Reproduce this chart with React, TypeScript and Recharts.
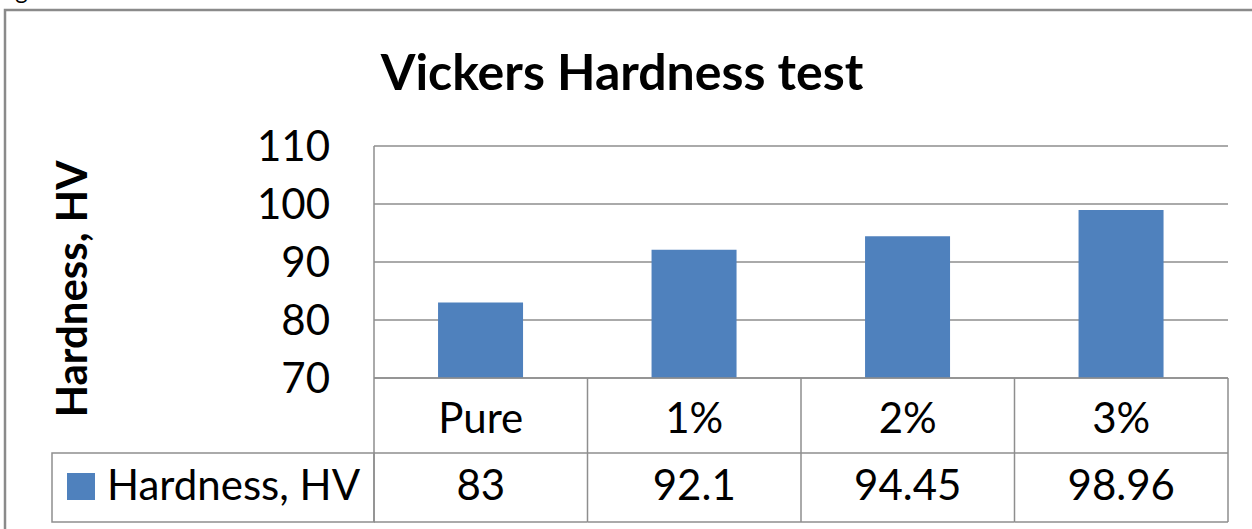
import React from 'react';
import { BarChart, Bar, XAxis, YAxis, CartesianGrid } from 'recharts';

const title = 'Vickers Hardness test';
const seriesName = 'Hardness, HV';
const categories = ['Pure', '1%', '2%', '3%'];
const hardness = [83, 92.1, 94.45, 98.96];
const yTicks = [70, 80, 90, 100, 110];

const data = categories.map((name, i) => ({ name, hardness: hardness[i] }));

const W = 1252;
const H = 529;
const Y_AXIS_W = 120;
const X_AXIS_H = 151; // category row + value row of the data table
const margin = { top: 146, right: 24, bottom: 0, left: 254 };
const PLOT_LEFT = margin.left + Y_AXIS_W;
const CELL_W = (W - margin.right - PLOT_LEFT) / categories.length;
const ROW1_H = 75;
const TABLE_H = 144;
const LEGEND_W = 322;

const FONT = 'Lato, "Open Sans", sans-serif';
const BAR_COLOR = '#4f81bd';
const LINE = '#8e8e8e';

// draws one column of the data table under the plot (category + value)
const TableTick = (props: any) => {
  const { x, y, payload } = props;
  const i = payload.index;
  const left = x - CELL_W / 2;
  const right = x + CELL_W / 2;
  return (
    <g>
      <text x={x} y={y + 55} textAnchor="middle" fontSize={42} fontFamily={FONT} fill="#000">
        {payload.value}
      </text>
      <text x={x} y={y + 122} textAnchor="middle" fontSize={42} fontFamily={FONT} fill="#000">
        {hardness[i]}
      </text>
      <line x1={right} y1={y} x2={right} y2={y + TABLE_H} stroke={LINE} strokeWidth={1.5} />
      <line x1={left} y1={y + ROW1_H} x2={right} y2={y + ROW1_H} stroke={LINE} strokeWidth={1.5} />
      <line x1={left} y1={y + TABLE_H} x2={right} y2={y + TABLE_H} stroke={LINE} strokeWidth={1.5} />
      {i === 0 && (
        <g>
          <line x1={left} y1={y} x2={left} y2={y + TABLE_H} stroke={LINE} strokeWidth={1.5} />
          <rect
            x={left - LEGEND_W}
            y={y + ROW1_H}
            width={LEGEND_W}
            height={TABLE_H - ROW1_H}
            fill="none"
            stroke={LINE}
            strokeWidth={1.5}
          />
          <rect x={left - LEGEND_W + 15} y={y + 95} width={28} height={27} fill={BAR_COLOR} />
          <text x={left - LEGEND_W + 55} y={y + 122} fontSize={42} fontFamily={FONT} fill="#000">
            {seriesName}
          </text>
        </g>
      )}
    </g>
  );
};

export default function App() {
  return (
    <div style={{ position: 'relative', width: W, height: H, overflow: 'hidden', background: '#fff' }}>
      <style>{'body{margin:0}'}</style>
      <BarChart width={W} height={H} data={data} margin={margin} barCategoryGap="30%">
        <CartesianGrid vertical={false} stroke={LINE} strokeWidth={1.5} />
        <XAxis
          dataKey="name"
          height={X_AXIS_H}
          axisLine={{ stroke: LINE, strokeWidth: 1.5 }}
          tickLine={false}
          tickSize={0}
          tickMargin={0}
          interval={0}
          tick={<TableTick />}
        />
        <YAxis
          width={Y_AXIS_W}
          domain={[70, 110]}
          ticks={yTicks}
          axisLine={{ stroke: LINE, strokeWidth: 1.5 }}
          tickLine={false}
          tickSize={0}
          tickMargin={44}
          tick={{ fontSize: 42, fill: '#000', fontFamily: FONT }}
        />
        <Bar dataKey="hardness" fill={BAR_COLOR} isAnimationActive={false} />
      </BarChart>
      <svg
        width={W}
        height={H}
        style={{ position: 'absolute', left: 0, top: 0, pointerEvents: 'none' }}
      >
        <text x={-4} y={-1} fontSize={24} fontFamily={FONT} fill="#000">Fig</text>
        <rect x={5} y={10} width={1400} height={700} fill="none" stroke="#8a8a8a" strokeWidth={2.5} />
        <text x={622} y={90} textAnchor="middle" fontSize={50} fontWeight="bold" fontFamily={FONT} fill="#000">
          {title}
        </text>
        <text
          transform="translate(87, 289) rotate(-90)"
          textAnchor="middle"
          fontSize={42}
          fontWeight="bold"
          fontFamily={FONT}
          fill="#000"
        >
          {seriesName}
        </text>
      </svg>
    </div>
  );
}
